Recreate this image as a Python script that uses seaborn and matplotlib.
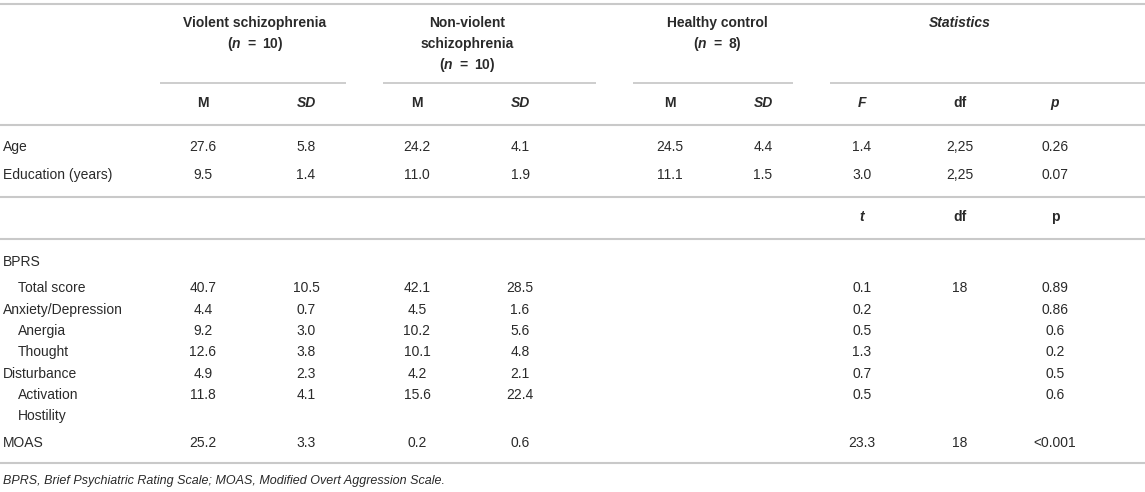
import matplotlib
matplotlib.use("Agg")
import matplotlib.pyplot as plt
import seaborn as sns

sns.set_theme(style="white")
plt.rcParams['font.family'] = ['Liberation Sans', 'DejaVu Sans']
plt.rcParams['mathtext.fontset'] = 'custom'
plt.rcParams['mathtext.rm'] = 'Liberation Sans'
plt.rcParams['mathtext.it'] = 'Liberation Sans:italic'
plt.rcParams['mathtext.bf'] = 'Liberation Sans:bold'
plt.rcParams['mathtext.bfit'] = 'Liberation Sans:italic:bold'

# ---- data ----
groups = ["Violent schizophrenia\n($\\mathbfit{n}$\u2002=\u200210)",
          "Non-violent\nschizophrenia\n($\\mathbfit{n}$\u2002=\u200210)",
          "Healthy control\n($\\mathbfit{n}$\u2002=\u20028)",
          "Statistics"]
sub_headers = ["M", "SD", "M", "SD", "M", "SD", "F", "df", "p"]
sub_styles = ["normal", "italic", "normal", "italic", "normal", "italic", "italic", "normal", "italic"]
sub_headers2 = ["t", "df", "p"]
sub_styles2 = ["italic", "normal", "normal"]

demo_labels = ["Age", "Education (years)"]
demo_values = [
    ["27.6", "5.8", "24.2", "4.1", "24.5", "4.4", "1.4", "2,25", "0.26"],
    ["9.5", "1.4", "11.0", "1.9", "11.1", "1.5", "3.0", "2,25", "0.07"],
]

clin_labels = ["BPRS", "Total score", "Anxiety/Depression", "Anergia", "Thought",
               "Disturbance", "Activation", "Hostility", "MOAS"]
clin_indent = [False, True, False, True, True, False, True, True, False]
clin_values = [
    ["", "", "", "", "", "", "", "", ""],
    ["40.7", "10.5", "42.1", "28.5", "", "", "0.1", "18", "0.89"],
    ["4.4", "0.7", "4.5", "1.6", "", "", "0.2", "", "0.86"],
    ["9.2", "3.0", "10.2", "5.6", "", "", "0.5", "", "0.6"],
    ["12.6", "3.8", "10.1", "4.8", "", "", "1.3", "", "0.2"],
    ["4.9", "2.3", "4.2", "2.1", "", "", "0.7", "", "0.5"],
    ["11.8", "4.1", "15.6", "22.4", "", "", "0.5", "", "0.6"],
    ["", "", "", "", "", "", "", "", ""],
    ["25.2", "3.3", "0.2", "0.6", "", "", "23.3", "18", "<0.001"],
]
footnote = "BPRS, Brief Psychiatric Rating Scale; MOAS, Modified Overt Aggression Scale."

# ---- layout ----
W, H = 1145, 492
fig = plt.figure(figsize=(W / 100, H / 100), dpi=100)
ax = fig.add_axes([0, 0, 1, 1])
ax.set_xlim(0, W)
ax.set_ylim(H, 0)
ax.axis("off")

txt = "#2a2a2a"
rule = "#c9c9c9"
fs = 10

col_x = [203, 306, 417, 520, 670, 763, 862, 960, 1055]
group_x = [255, 467, 717, 960]
group_y = [[23, 44], [23, 44, 65], [23, 44], [23]]
partial = [(160, 346), (383, 596), (633, 793), (830, 1145)]

for g, gx, gys in zip(groups, group_x, group_y):
    lines = g.split("\n")
    for ln, gy in zip(lines, gys):
        style = "italic" if g == "Statistics" else "normal"
        ax.text(gx, gy, ln, ha="center", va="center", fontsize=fs,
                fontweight="bold", fontstyle=style, color=txt)

for x0, x1 in partial:
    ax.plot([x0, x1], [83, 83], color=rule, lw=1.3, solid_capstyle="butt")

for x, s, st in zip(col_x, sub_headers, sub_styles):
    ax.text(x, 103, s, ha="center", va="center", fontsize=fs,
            fontweight="bold", fontstyle=st, color=txt)

for y in [4, 125, 197, 239, 463]:
    ax.plot([0, W], [y, y], color=rule, lw=1.5, solid_capstyle="butt")

demo_y = [147, 175]
for lab, vals, y in zip(demo_labels, demo_values, demo_y):
    ax.text(3, y, lab, ha="left", va="center", fontsize=fs, color=txt)
    for x, v in zip(col_x, vals):
        ax.text(x, y, v, ha="center", va="center", fontsize=fs, color=txt)

for x, s, st in zip(col_x[6:], sub_headers2, sub_styles2):
    ax.text(x, 217, s, ha="center", va="center", fontsize=fs,
            fontweight="bold", fontstyle=st, color=txt)

clin_y = [262, 288, 310, 331, 352, 374, 395, 416, 443]
for lab, ind, vals, y in zip(clin_labels, clin_indent, clin_values, clin_y):
    ax.text(18 if ind else 3, y, lab, ha="left", va="center", fontsize=fs, color=txt)
    for x, v in zip(col_x, vals):
        if v:
            ax.text(x, y, v, ha="center", va="center", fontsize=fs, color=txt)

ax.text(3, 481, footnote, ha="left", va="center", fontsize=fs * 0.9,
        fontstyle="italic", color=txt)

fig.savefig("out.png", dpi=100)
